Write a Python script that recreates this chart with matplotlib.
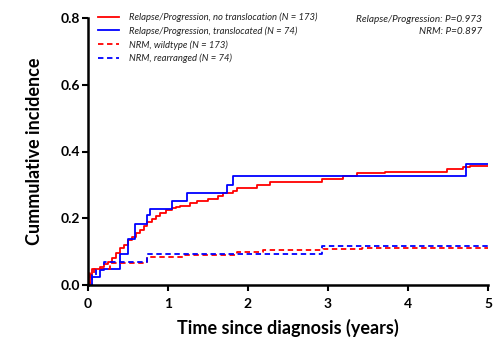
import matplotlib
matplotlib.use("Agg")
import matplotlib.pyplot as plt

plt.rcParams['font.family'] = ['Lato', 'DejaVu Sans']

# Relapse/Progression, no translocation (red solid)
rp_no_t = [0.0, 0.02, 0.05, 0.15, 0.2, 0.25, 0.3, 0.35, 0.4, 0.45, 0.5, 0.55, 0.6, 0.65, 0.7, 0.74,
           0.8, 0.85, 0.9, 0.97, 1.05, 1.1, 1.15, 1.275, 1.36, 1.5, 1.63, 1.69, 1.81, 1.86, 2.11, 2.28,
           2.92, 3.19, 3.36, 3.71, 4.49, 4.69, 4.78, 5.0]
rp_no_y = [0.0, 0.03, 0.048, 0.054, 0.062, 0.07, 0.08, 0.095, 0.11, 0.12, 0.135, 0.145, 0.156, 0.165, 0.178, 0.189,
           0.198, 0.207, 0.216, 0.224, 0.23, 0.234, 0.237, 0.246, 0.252, 0.258, 0.267, 0.276, 0.282, 0.29, 0.30, 0.309,
           0.318, 0.327, 0.336, 0.339, 0.348, 0.354, 0.357, 0.357]

# Relapse/Progression, translocated (blue solid)
rp_t_t = [0.0, 0.05, 0.15, 0.4, 0.5, 0.59, 0.74, 0.78, 1.05, 1.24, 1.74, 1.81, 4.73, 5.0]
rp_t_y = [0.0, 0.024, 0.048, 0.093, 0.138, 0.183, 0.21, 0.228, 0.252, 0.276, 0.30, 0.327, 0.363, 0.363]

# NRM, wildtype (red dashed)
nrm_wt_t = [0.0, 0.03, 0.08, 0.27, 0.74, 1.19, 1.86, 2.19, 2.94, 3.43, 5.0]
nrm_wt_y = [0.0, 0.036, 0.048, 0.066, 0.084, 0.09, 0.099, 0.105, 0.108, 0.111, 0.111]

# NRM, rearranged (blue dashed)
nrm_re_t = [0.0, 0.05, 0.1, 0.2, 0.74, 2.93, 5.0]
nrm_re_y = [0.0, 0.03, 0.045, 0.068, 0.093, 0.117, 0.117]

labels = ["Relapse/Progression, no translocation (N = 173)",
          "Relapse/Progression, translocated (N = 74)",
          "NRM, wildtype (N = 173)",
          "NRM, rearranged (N = 74)"]
pvals = ["Relapse/Progression: P=0.973", "NRM: P=0.897"]

fig = plt.figure(figsize=(4.94, 3.40), dpi=100)
ax = fig.add_axes([88/494, 1-285/340, 400/494, 267/340])

red = '#ff0000'
blue = '#0000ff'
lw = 1.3
ax.plot(rp_no_t, rp_no_y, drawstyle='steps-post', color=red, lw=lw, label=labels[0])
ax.plot(rp_t_t, rp_t_y, drawstyle='steps-post', color=blue, lw=lw, label=labels[1])
ax.plot(nrm_wt_t, nrm_wt_y, drawstyle='steps-post', color=red, lw=lw, ls=(0, (3, 2)), label=labels[2])
ax.plot(nrm_re_t, nrm_re_y, drawstyle='steps-post', color=blue, lw=lw, ls=(0, (3, 2)), label=labels[3])

ax.set_xlim(0, 5)
ax.set_ylim(0, 0.8)
ax.set_xticks([0, 1, 2, 3, 4, 5])
ax.set_yticks([0.0, 0.2, 0.4, 0.6, 0.8])
ax.set_yticklabels(['0.0', '0.2', '0.4', '0.6', '0.8'])
for s in ['top', 'right']:
    ax.spines[s].set_visible(False)
for s in ['left', 'bottom']:
    ax.spines[s].set_linewidth(1.8)
ax.tick_params(direction='out', length=4.5, width=1.5, labelsize=10)
ax.tick_params(axis='x', pad=5)
ax.tick_params(axis='y', pad=1.5)
for t in ax.get_xticklabels() + ax.get_yticklabels():
    t.set_fontweight('bold')

ax.set_xlabel('Time since diagnosis (years)', fontsize=13, fontweight='bold', labelpad=6)
ax.set_ylabel('Cummulative incidence', fontsize=13, fontweight='bold', labelpad=12)

leg = ax.legend(loc='upper left', bbox_to_anchor=(0.015, 1.035), frameon=False,
                prop={'size': 6.8, 'style': 'italic'}, handlelength=2.2,
                handletextpad=1.1, labelspacing=0.45, borderaxespad=0)
for t in leg.get_texts():
    t.set_color('#222222')

ax.text(0.985, 0.995, pvals[0], transform=ax.transAxes, ha='right', va='center',
        fontsize=7.2, style='italic', color='#222222')
ax.text(0.985, 0.95, pvals[1], transform=ax.transAxes, ha='right', va='center',
        fontsize=7.2, style='italic', color='#222222')

fig.savefig('out.png', dpi=100)
